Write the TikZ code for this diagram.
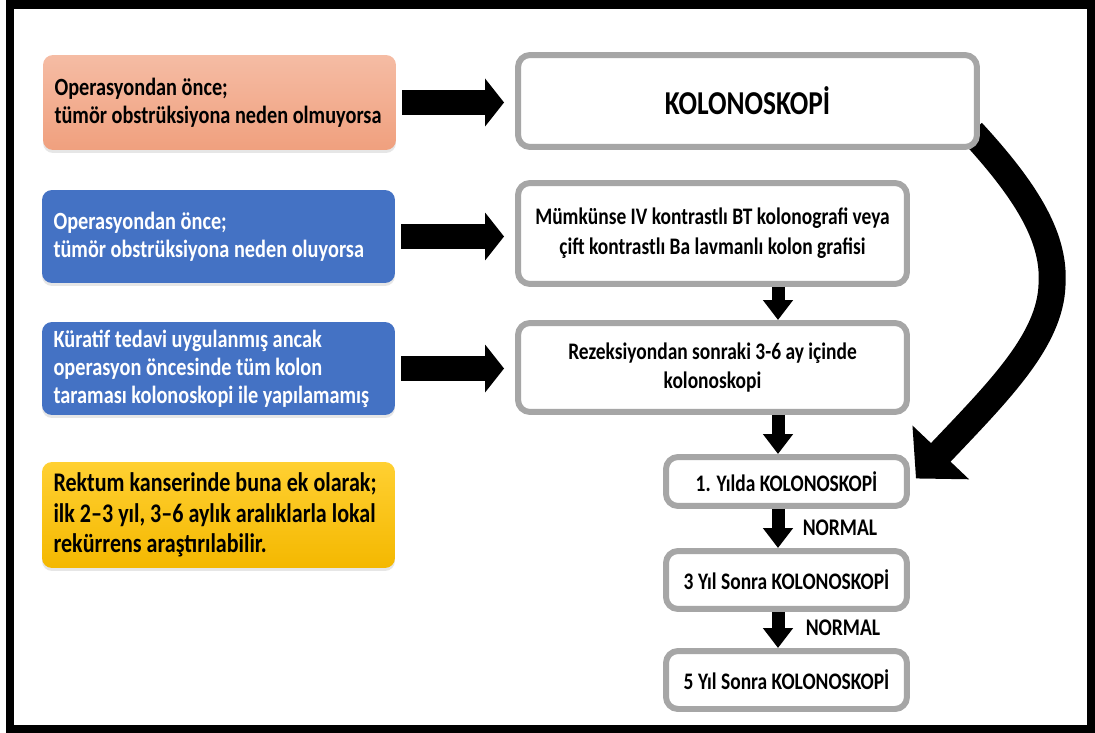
\documentclass[tikz,border=0pt]{standalone}
\usepackage{fontspec}
\setmainfont{Carlito}[FakeStretch=0.82]
\usetikzlibrary{arrows.meta,shadows,backgrounds}
\definecolor{boxgray}{RGB}{166,166,166}
\definecolor{blueish}{RGB}{68,114,196}
\definecolor{peachtop}{RGB}{245,188,164}
\definecolor{peachbot}{RGB}{240,160,126}
\definecolor{goldtop}{RGB}{255,208,50}
\definecolor{goldbot}{RGB}{244,184,0}
\begin{document}
\begin{tikzpicture}[x=0.02cm,y=-0.02cm,
    colorbox/.style={rounded corners=0.2cm, minimum width=7.06cm, text width=6.6cm,
        align=flush left, inner sep=0pt, font=\bfseries\fontsize{14.1}{16}\selectfont,
        drop shadow={opacity=0.2, shadow xshift=0cm, shadow yshift=-0.06cm}},
    graybox/.style={draw=boxgray, line width=0.12cm, fill=white, rounded corners=0.24cm,
        align=center, inner sep=0pt, font=\bfseries\fontsize{13.5}{17}\selectfont},
    sidearrow/.style={line width=0.5cm, -{Triangle[length=0.38cm,width=0.94cm]},
        shorten <=0.12cm, shorten >=0.22cm},
    downarrow/.style={line width=0.26cm, -{Triangle[length=0.4cm,width=0.58cm]}},
    bigarrow/.style={line width=0.54cm, -{Triangle[length=0.72cm,width=1.52cm]}},
    normallabel/.style={font=\bfseries\fontsize{13.6}{15}\selectfont}]
    \useasboundingbox (0,0) rectangle (1095,733);

    % Black frame round everything
    \draw[line width=0.18cm] (10,4.5) rectangle (1091,729);

    % Left column: conditions
    \node[colorbox, top color=peachtop, bottom color=peachbot, minimum height=1.9cm]
        (pre) at (219.5,102.5) {Operasyondan önce;\\tümör obstrüksiyona neden olmuyorsa};
    \node[colorbox, fill=blueish, text=white, minimum height=1.86cm]
        (obst) at (218.5,236.5) {Operasyondan önce;\\tümör obstrüksiyona neden oluyorsa};
    \node[colorbox, fill=blueish, text=white, minimum height=1.86cm]
        (kurat) at (218.5,368.5) {Küratif tedavi uygulanmış ancak\\operasyon öncesinde tüm kolon\\taraması kolonoskopi ile yapılamamış};
    \node[colorbox, top color=goldtop, bottom color=goldbot, minimum height=2.12cm,
        font=\bfseries\fontsize{15.3}{17.5}\selectfont]
        (rekt) at (218.5,515) {Rektum kanserinde buna ek olarak;\\ilk 2–3 yıl, 3–6 aylık aralıklarla lokal\\rekürrens araştırılabilir.};

    % Right column: examinations
    \node[graybox, minimum width=9.18cm, minimum height=1.84cm,
        font=\bfseries\fontsize{19}{22}\selectfont]
        (kolon) at (747.5,101) {KOLONOSKOPİ};
    \node[graybox, minimum width=7.78cm, minimum height=2.02cm]
        (grafi) at (712.5,233.5) {Mümkünse IV kontrastlı BT kolonografi veya\\çift kontrastlı Ba lavmanlı kolon grafisi};
    \node[graybox, minimum width=7.78cm, minimum height=1.78cm]
        (rezek) at (712.5,367.5) {Rezeksiyondan sonraki 3-6 ay içinde\\kolonoskopi};
    \node[graybox, minimum width=4.82cm, minimum height=0.98cm]
        (yil1) at (786.5,481.5) {1. Yılda KOLONOSKOPİ};
    \node[graybox, minimum width=4.82cm, minimum height=1.16cm]
        (yil3) at (786.5,580) {3 Yıl Sonra KOLONOSKOPİ};
    \node[graybox, minimum width=4.82cm, minimum height=1.16cm]
        (yil5) at (786.5,680) {5 Yıl Sonra KOLONOSKOPİ};

    % Arrows from left to right
    \draw[sidearrow] (pre.east) -- (pre.east -| kolon.west);
    \draw[sidearrow] (obst.east) -- (obst.east -| grafi.west);
    \draw[sidearrow] (kurat.east) -- (kurat.east -| rezek.west);

    % Arrows down the right column
    \coordinate (ax) at (778,0);
    \draw[downarrow] (grafi.south -| ax) -- (rezek.north -| ax);
    \draw[downarrow] (rezek.south -| ax) -- (yil1.north -| ax);
    \draw[downarrow] (yil1.south -| ax) -- (yil3.north -| ax);
    \draw[downarrow] (yil3.south -| ax) -- (yil5.north -| ax);
    \node[normallabel] (norm1) at (840,528) {NORMAL};
    \node[normallabel] (norm2) at (843,628) {NORMAL};

    % Big curved arrow behind the first box
    \begin{scope}[on background layer]
        \draw[bigarrow] ([shift={(-8,-18)}]kolon.south east)
            .. controls (1030,195) and (1055,240) .. (1052,285)
            .. controls (1050,340) and (1000,390) .. ([shift={(6,-3)}]yil1.east);
    \end{scope}
\end{tikzpicture}
\end{document}
